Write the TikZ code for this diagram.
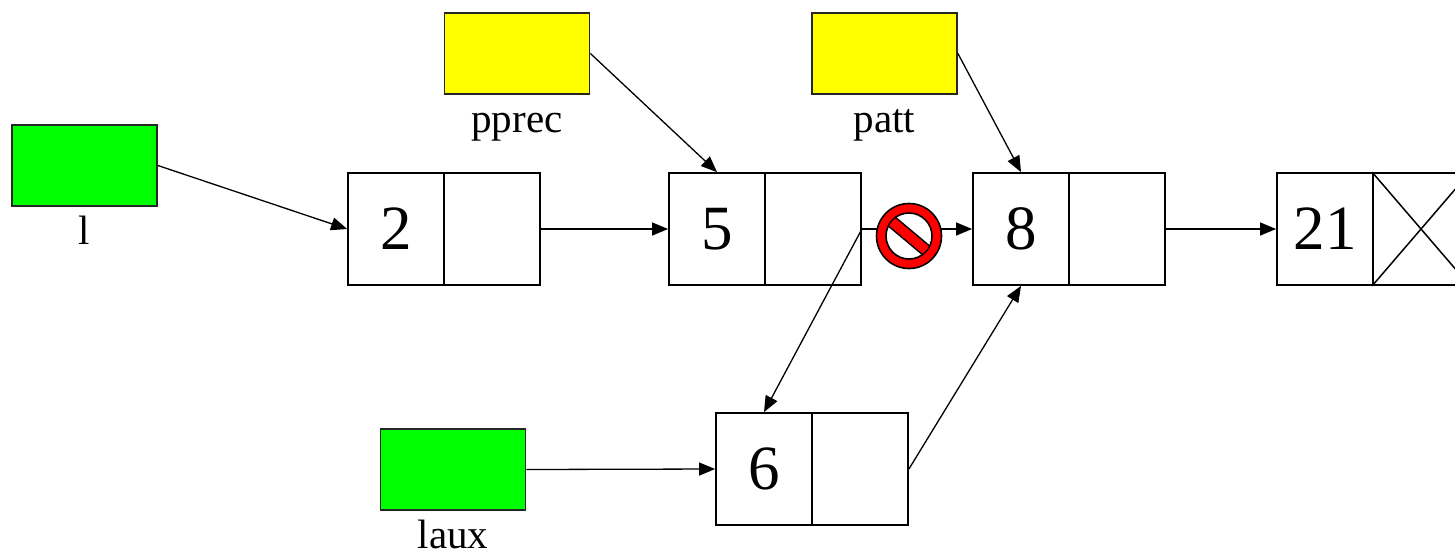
\documentclass[tikz,border=0pt]{standalone}
\usepackage{fontspec}
\setmainfont{Liberation Serif}
\usetikzlibrary{arrows.meta}
\definecolor{ptrgreen}{HTML}{00FF00}
\definecolor{ptryellow}{HTML}{FFFF00}
\definecolor{stopred}{HTML}{FF0000}
\tikzset{
  cell/.style={draw=black, line width=1.8pt, minimum width=96pt, minimum height=112pt, inner sep=0pt, fill=white,
    font=\fontsize{63}{70}\selectfont},
  ptrbox/.style={draw=black!85, line width=1.8pt, minimum width=145pt, minimum height=81pt, inner sep=0pt},
  lbl/.style={anchor=base, inner sep=0pt, font=\fontsize{41}{44}\selectfont},
  link/.style={line width=1.3pt, -{Triangle[length=16pt,width=13pt]}},
}
\begin{document}
\begin{tikzpicture}[x=1pt,y=-1pt]
\useasboundingbox (0,0) rectangle (1455,550);
\clip (0,0) rectangle (1455,550);
% pointer variables
\node[ptrbox, fill=ptrgreen]  (l)     at (84.5,165.5) {};
\node[ptrbox, fill=ptryellow] (pprec) at (517,53.5) {};
\node[ptrbox, fill=ptryellow] (patt)  at (884.5,53.5) {};
\node[ptrbox, fill=ptrgreen]  (laux)  at (453,469.5) {};
\node[lbl] (ll)     at ([yshift=-38pt]l.south) {l};
\node[lbl] (lpprec) at ([yshift=-38pt]pprec.south) {pprec};
\node[lbl] (lpatt)  at ([yshift=-38pt]patt.south) {patt};
\node[lbl] (llaux)  at ([yshift=-38pt]laux.south) {laux};
% list cells
\node[cell] (n2a)  at (396,229) {2};
\node[cell] (n2b)  at (492,229) {};
\node[cell] (n5a)  at (717,229) {5};
\node[cell] (n5b)  at (813,229) {};
\node[cell] (n8a)  at (1021,229) {8};
\node[cell] (n8b)  at (1117,229) {};
\node[cell] (n21a) at (1325,229) {21};
\node[cell] (n21b) at (1421,229) {};
\node[cell] (n6a)  at (764,469) {6};
\node[cell] (n6b)  at (860,469) {};
\draw[line width=1.5pt] (n21b.north west) -- (n21b.south east)
                        (n21b.south west) -- (n21b.north east);
% links
\draw[link] (l.east) -- (n2a.west);
\draw[link] (n2b.east) -- (n5a.west);
\draw[link] (n5b.east) -- (n8a.west);
\draw[link] (n8b.east) -- (n21a.west);
\draw[link] (pprec.east) -- (n5a.north);
\draw[link] (patt.east) -- (n8a.north);
\draw[link] (n5b.east) -- (n6a.north);
\draw[link] (n6b.east) -- (n8a.south);
\draw[link] (laux.east) -- (n6a.west);
% forbidden sign
\coordinate (stop) at (909,236);
\fill[white] (stop) circle (23);
\fill[stopred, even odd rule] (stop) circle (32.5) (stop) circle (23);
\begin{scope}
  \clip (stop) circle (23.5);
  \fill[stopred, rotate around={-40:(stop)}] ([xshift=-30pt,yshift=-5.5pt]stop) rectangle ([xshift=30pt,yshift=5.5pt]stop);
  \draw[line width=1.6pt, rotate around={-40:(stop)}]
    ([xshift=-30pt,yshift=-5.5pt]stop) -- ([xshift=30pt,yshift=-5.5pt]stop)
    ([xshift=-30pt,yshift=5.5pt]stop) -- ([xshift=30pt,yshift=5.5pt]stop);
\end{scope}
\draw[line width=1.6pt] (stop) circle (32.5);
\begin{scope}
  \clip[rotate around={-40:(stop)}] ([xshift=-40pt,yshift=-40pt]stop) rectangle ([xshift=40pt,yshift=-5.5pt]stop)
       ([xshift=-40pt,yshift=5.5pt]stop) rectangle ([xshift=40pt,yshift=40pt]stop);
\end{scope}
\draw[line width=1.6pt] (stop) circle (23);
\begin{scope}
  \clip (stop) circle (22.2);
  \fill[stopred, rotate around={-40:(stop)}] ([xshift=-30pt,yshift=-4.7pt]stop) rectangle ([xshift=30pt,yshift=4.7pt]stop);
\end{scope}
\end{tikzpicture}
\end{document}
